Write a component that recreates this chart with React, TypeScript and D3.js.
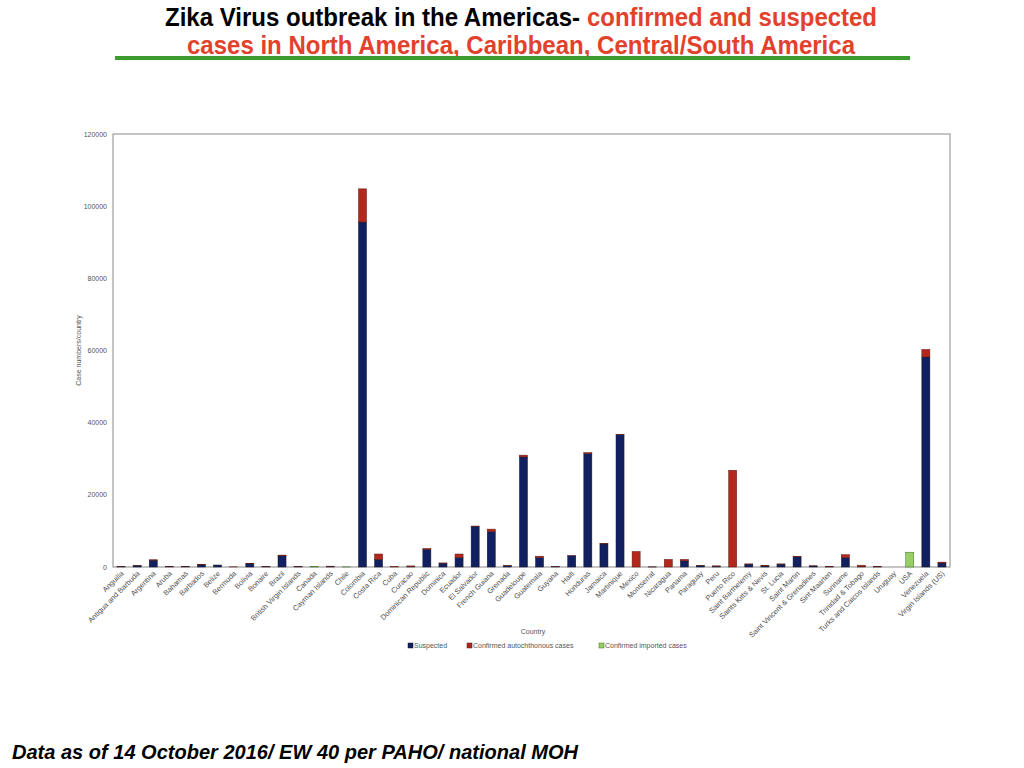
import * as d3 from 'd3';
import { type FC } from 'react';

const countries: string[] = [
  'Anguilla', 'Antigua and Barbuda', 'Argentina', 'Aruba', 'Bahamas', 'Barbados', 'Belize',
  'Bermuda', 'Bolivia', 'Bonaire', 'Brazil', 'British Virgin Islands', 'Canada',
  'Cayman Islands', 'Chile', 'Colombia', 'Costa Rica', 'Cuba', 'Curacao', 'Dominican Republic',
  'Dominica', 'Ecuador', 'El Salvador', 'French Guiana', 'Grenada', 'Guadeloupe', 'Guatemala',
  'Guyana', 'Haiti', 'Honduras', 'Jamaica', 'Martinique', 'Mexico', 'Montserrat', 'Nicaragua',
  'Panama', 'Paraguay', 'Peru', 'Puerto Rico', 'Saint Barthelemy', 'Saints Kitts & Nevis',
  'St. Lucia', 'Saint Martin', 'Saint Vincent & Grenadines', 'Sint Maarten', 'Suriname',
  'Trinidad & Tobago', 'Turks and Caicos Islands', 'Uruguay', 'USA', 'Venezuela',
  'Virgin Islands (US)',
];

const suspected: number[] = [
  130, 450, 1900, 150, 150, 600, 550, 0, 900, 100, 3100, 150, 0, 200, 0, 95600, 2100, 0, 100,
  4900, 1050, 2600, 11300, 9800, 400, 30500, 2600, 100, 3100, 31400, 6400, 36700, 0, 20, 0,
  1700, 450, 250, 0, 800, 300, 800, 2800, 300, 50, 2600, 100, 50, 0, 0, 58200, 1100,
];

const confirmed: number[] = [
  20, 20, 100, 50, 25, 150, 0, 50, 50, 50, 200, 50, 0, 30, 0, 9200, 1500, 100, 200, 250, 80,
  1000, 50, 700, 80, 500, 400, 50, 10, 300, 100, 100, 4300, 5, 2100, 400, 10, 50, 26800, 50,
  150, 50, 50, 20, 50, 800, 400, 100, 0, 0, 2100, 250,
];

const imported: number[] = [
  0, 0, 0, 0, 0, 0, 0, 0, 0, 0, 0, 0, 200, 0, 50, 0, 0, 0, 0, 0, 0, 0, 0, 0, 0, 0, 0, 0, 0,
  0, 0, 0, 0, 0, 0, 0, 0, 0, 0, 0, 0, 0, 0, 0, 0, 0, 0, 0, 0, 4100, 0, 0,
];

const yTicks: number[] = [0, 20000, 40000, 60000, 80000, 100000, 120000];

const seriesNames = ['Suspected', 'Confirmed autochthonous  cases', 'Confirmed imported cases'];
const seriesColors = ['#112060', '#b3271d', '#98cf65'];
const seriesStroke = ['#1a1a2a', '#5a1a14', '#3f6b26'];

const W = 1024;
const H = 768;
const left = 113;
const right = 950;
const top = 134;
const bottom = 567;

const font = 'Liberation Sans, Arial, Helvetica, sans-serif';

const App: FC = () => {
  const x = d3.scaleBand<string>().domain(countries).range([left, right]).paddingInner(0.5).paddingOuter(0.25);
  const y = d3.scaleLinear().domain([0, 120000]).range([bottom, top]);

  const rows = countries.map((c, i) => ({
    country: c,
    s: suspected[i],
    c: confirmed[i],
    m: imported[i],
  }));
  const stack = d3.stack<{ country: string; s: number; c: number; m: number }>().keys(['s', 'c', 'm']);
  const layers = stack(rows);

  const legendX = [410, 469, 601];

  return (
    <svg width={W} height={H} viewBox={`0 0 ${W} ${H}`} style={{ position: 'absolute', left: 0, top: 0 }}>
      <rect width={W} height={H} fill='#fff' />
      <g fontFamily={font} fontWeight='bold' fontSize={26} lengthAdjust='spacingAndGlyphs'>
        <text x={165} y={26} fill='#000' textLength={415} lengthAdjust='spacingAndGlyphs'>
          Zika Virus outbreak in the Americas-
        </text>
        <text x={587} y={26} fill='#e2422b' textLength={290} lengthAdjust='spacingAndGlyphs'>
          confirmed and suspected
        </text>
        <text x={187} y={54} fill='#e2422b' textLength={668} lengthAdjust='spacingAndGlyphs'>
          cases in North America, Caribbean, Central/South America
        </text>
      </g>
      <rect x={115} y={56} width={795} height={4} fill='#3b9b2f' />

      <rect x={left} y={top} width={right - left} height={bottom - top} fill='none' stroke='#8a8a8a' strokeWidth={1} />

      <g fontFamily={font} fontSize={7} fill='#555' textAnchor='end'>
        {yTicks.map((t) => (
          <text key={t} x={107} y={y(t) + 2.5}>
            {t}
          </text>
        ))}
      </g>
      <text
        transform={`translate(81, ${(top + bottom) / 2}) rotate(-90)`}
        fontFamily={font}
        fontSize={7}
        fill='#555'
        textAnchor='middle'
      >
        Case numbers/country
      </text>

      {layers.map((layer, li) => (
        <g key={li} fill={seriesColors[li]} stroke={seriesStroke[li]} strokeWidth={0.5}>
          {layer.map((d, i) =>
            d[1] - d[0] > 0 ? (
              <rect
                key={i}
                x={x(countries[i]) as number}
                y={y(d[1])}
                width={x.bandwidth()}
                height={y(d[0]) - y(d[1])}
              />
            ) : null,
          )}
        </g>
      ))}

      <g fontFamily={font} fontSize={7.4} fill='#505050' textAnchor='end'>
        {countries.map((c) => {
          const cx = (x(c) as number) + x.bandwidth() / 2 + 3;
          return (
            <text key={c} transform={`translate(${cx}, ${bottom + 7}) rotate(-45)`}>
              {c}
            </text>
          );
        })}
      </g>

      <text x={533} y={634} fontFamily={font} fontSize={7} fill='#555' textAnchor='middle'>
        Country
      </text>

      <g fontFamily={font} fontSize={7} fill='#555'>
        {seriesNames.map((n, i) => (
          <g key={n} transform={`translate(${legendX[i]}, 649)`}>
            <rect x={-2} y={-6} width={5} height={5} fill={seriesColors[i]} stroke={seriesStroke[i]} strokeWidth={0.5} />
            <text x={4} y={-1}>
              {n}
            </text>
          </g>
        ))}
      </g>

      <text
        x={12}
        y={759}
        fontFamily={font}
        fontWeight='bold'
        fontStyle='italic'
        fontSize={19.5}
        fill='#000'
        textLength={566}
        lengthAdjust='spacingAndGlyphs'
      >
        Data as of 14 October 2016/ EW 40 per PAHO/ national MOH
      </text>
    </svg>
  );
};

export default App;
